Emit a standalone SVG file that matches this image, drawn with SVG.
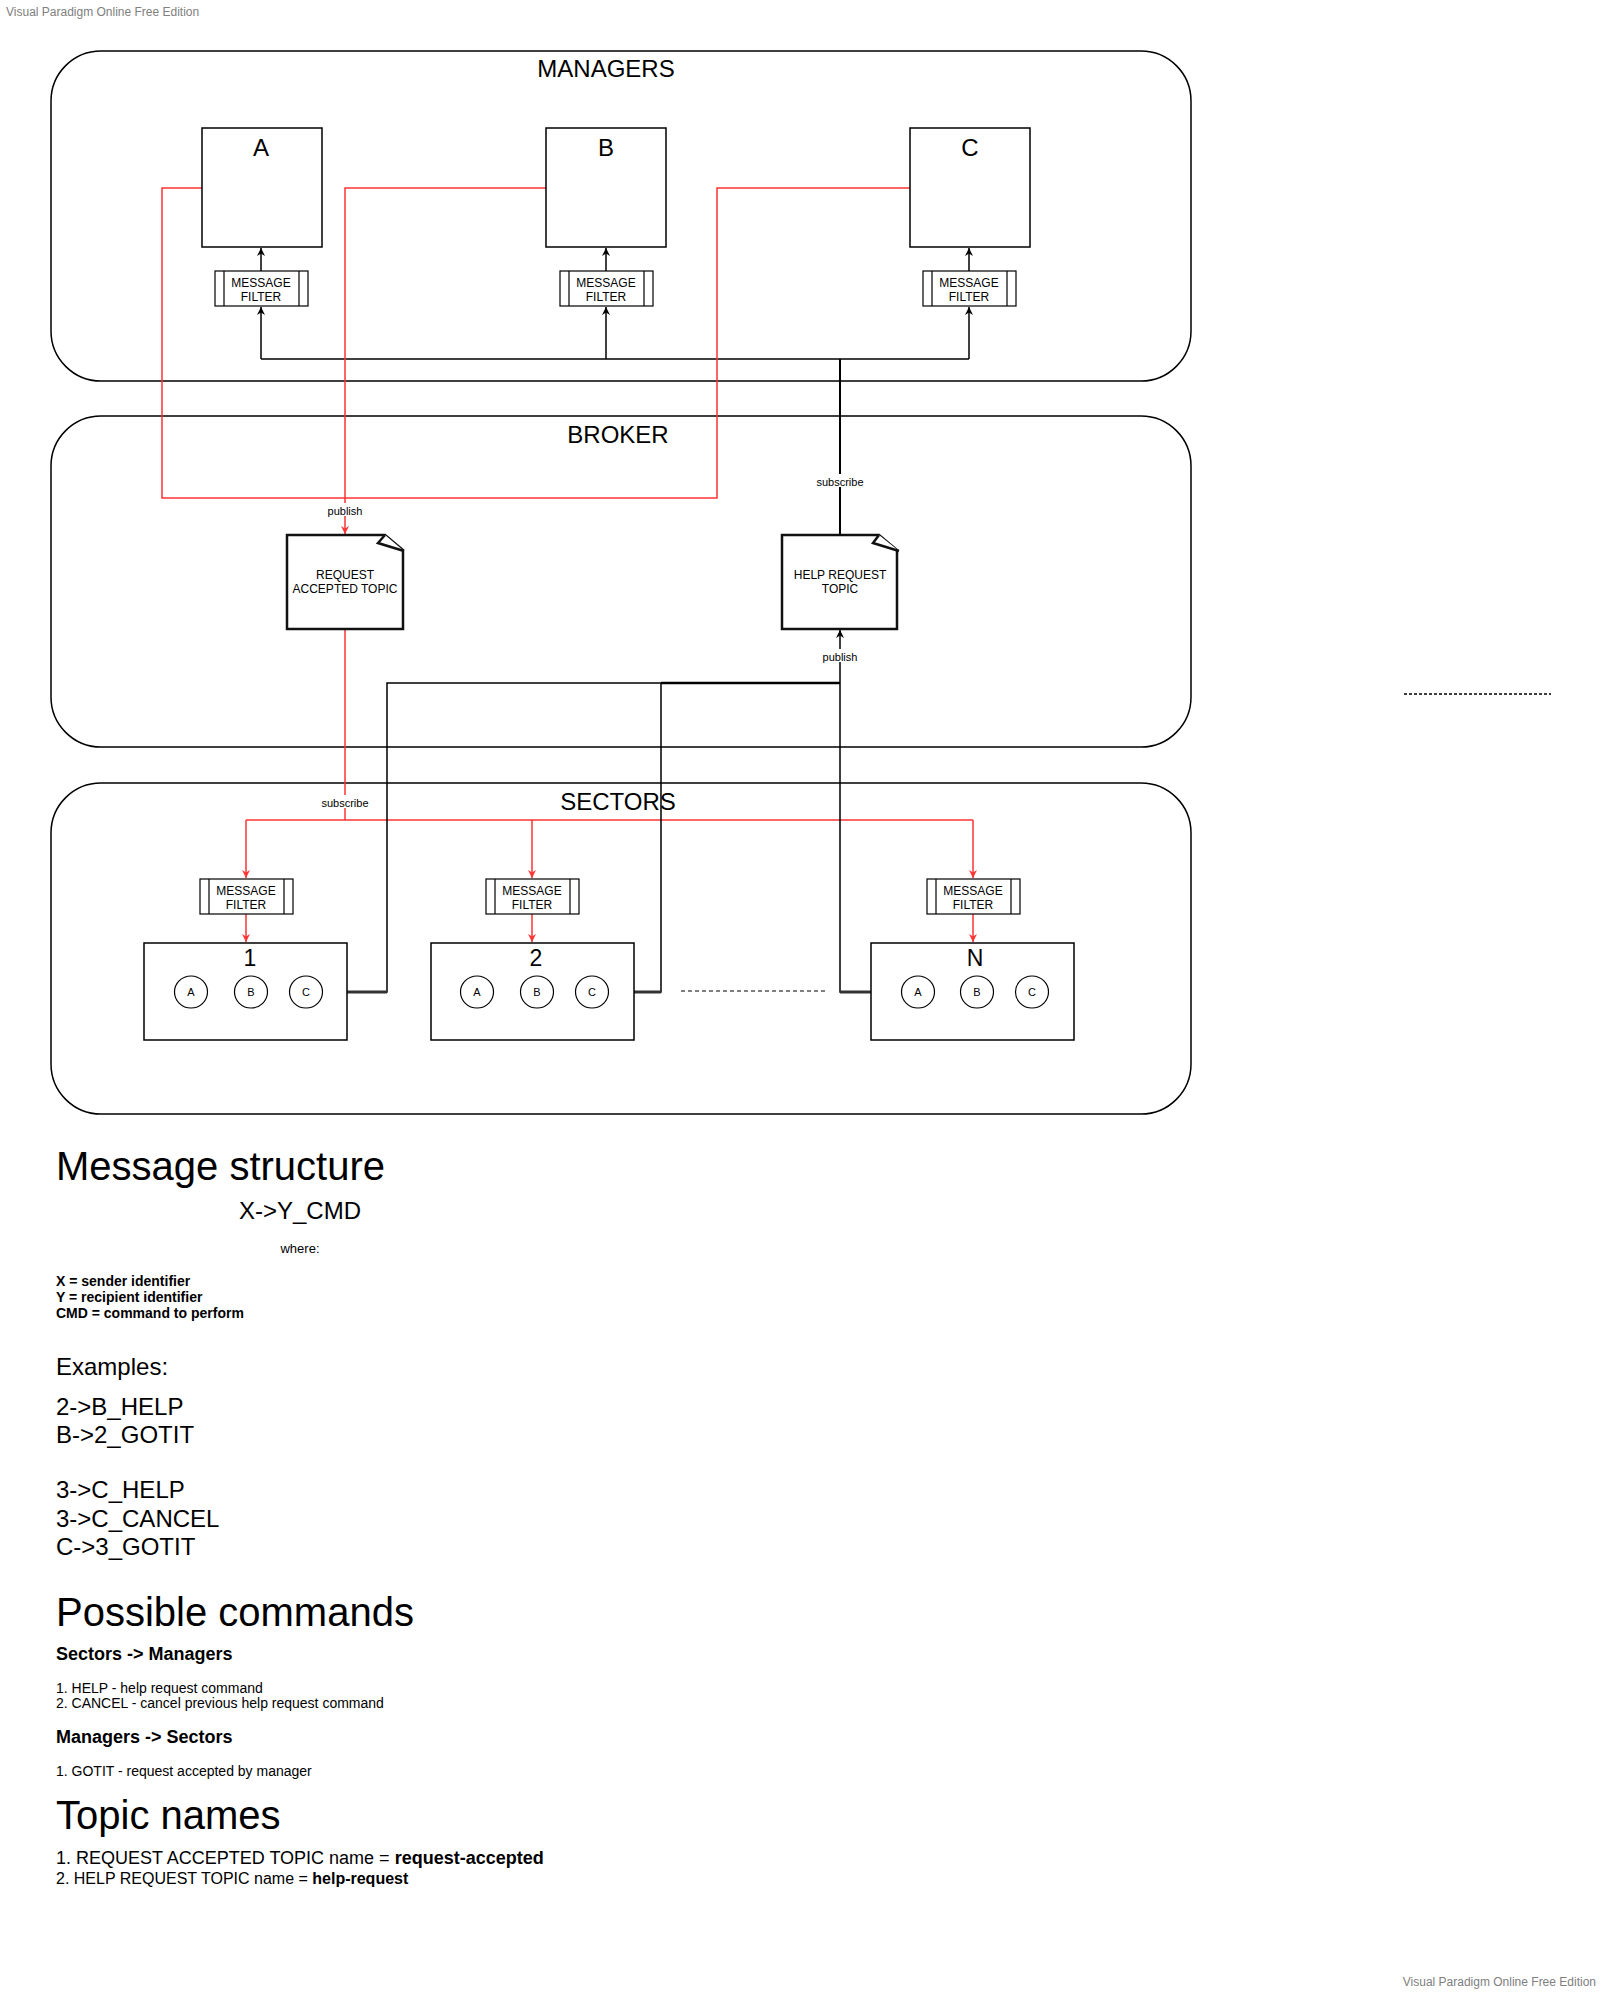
<svg xmlns="http://www.w3.org/2000/svg" width="1600" height="1992" viewBox="0 0 1600 1992">
<style>
text{font-family:"Liberation Sans",Arial,sans-serif;fill:#000}
.wm{font-size:12px;fill:#808080}
.cont{fill:none;stroke:#000;stroke-width:1.5}
.box{fill:#fff;stroke:#000;stroke-width:1.5}
.flt{fill:#fff;stroke:#000;stroke-width:1.2}
.topic{fill:#fff;stroke:#111;stroke-width:2.5;stroke-linejoin:miter}
.big{font-size:24px;text-anchor:middle}
.sm{font-size:12px;text-anchor:middle}
.cl{font-size:11px;text-anchor:middle}
.lbl{font-size:11px;text-anchor:middle}
.blk{fill:none;stroke:#000;stroke-width:1.5}
.red{fill:none;stroke:#f33;stroke-width:1.5}
.stub{fill:none;stroke:#333;stroke-width:3}
.circ{fill:#fff;stroke:#000;stroke-width:1.2}
</style>
<defs>
<marker id="ab" viewBox="0 0 10 10" refX="10" refY="5" markerWidth="9" markerHeight="8" markerUnits="userSpaceOnUse" orient="auto"><path d="M0,0 L10,5 L0,10 L3,5 z" fill="#000"/></marker>
<marker id="ar" viewBox="0 0 10 10" refX="10" refY="5" markerWidth="9" markerHeight="8" markerUnits="userSpaceOnUse" orient="auto"><path d="M0,0 L10,5 L0,10 L3,5 z" fill="#f33"/></marker>
</defs>
<rect width="1600" height="1992" fill="#fff"/>
<text class="wm" x="6" y="16">Visual Paradigm Online Free Edition</text>
<text class="wm" x="1596" y="1986" text-anchor="end">Visual Paradigm Online Free Edition</text>

<g id="managers">
<rect class="cont" x="51" y="51" width="1140" height="330" rx="50" ry="50"/>
<text class="big" x="606" y="77">MANAGERS</text>
</g>
<g id="broker">
<rect class="cont" x="51" y="416" width="1140" height="331" rx="50" ry="50"/>
<text class="big" x="618" y="443">BROKER</text>
</g>
<g id="sectors">
<rect class="cont" x="51" y="783" width="1140" height="331" rx="50" ry="50"/>
<text class="big" x="618" y="810">SECTORS</text>
</g>

<g id="connectors">
<path class="blk" d="M261,359 H969"/>
<path class="blk" d="M261,359 V307" marker-end="url(#ab)"/>
<path class="blk" d="M606,359 V307" marker-end="url(#ab)"/>
<path class="blk" d="M969,359 V307" marker-end="url(#ab)"/>
<path class="blk" d="M261,271 V248" marker-end="url(#ab)"/>
<path class="blk" d="M606,271 V248" marker-end="url(#ab)"/>
<path class="blk" d="M969,271 V248" marker-end="url(#ab)"/>
<path class="blk" d="M840,535 V359" style="stroke-width:2"/>
<path class="red" d="M202,188 H162 V498 H345"/>
<path class="red" d="M910,188 H717 V498 H345"/>
<path class="red" d="M546,188 H345 V534" marker-end="url(#ar)"/>
<path class="red" d="M345,629 V820"/>
<path class="red" d="M246,820 H973"/>
<path class="red" d="M246,820 V878" marker-end="url(#ar)"/>
<path class="red" d="M532,820 V878" marker-end="url(#ar)"/>
<path class="red" d="M973,820 V878" marker-end="url(#ar)"/>
<path class="red" d="M246,914 V942" marker-end="url(#ar)"/>
<path class="red" d="M532,914 V942" marker-end="url(#ar)"/>
<path class="red" d="M973,914 V942" marker-end="url(#ar)"/>
<path class="blk" d="M347,992 H387 V683 H840"/>
<path class="blk" d="M634,992 H661 V683"/>
<path class="blk" d="M661,683 H840" style="stroke-width:2.5"/>
<path class="blk" d="M871,992 H840 V630" marker-end="url(#ab)"/>
<path class="stub" d="M347,992 H387"/>
<path class="stub" d="M634,992 H661"/>
<path class="stub" d="M871,992 H840"/>
<path d="M681,991 H827" stroke="#000" stroke-width="1.2" stroke-dasharray="4,3" fill="none"/>
<path d="M1404,694 H1551" stroke="#000" stroke-width="1.5" stroke-dasharray="3,2" fill="none"/>
<rect x="326" y="503" width="38" height="13" fill="#fff"/>
<text class="lbl" x="345" y="515">publish</text>
<rect x="815" y="474" width="50" height="13" fill="#fff"/>
<text class="lbl" x="840" y="486">subscribe</text>
<rect x="821" y="649" width="38" height="13" fill="#fff"/>
<text class="lbl" x="840" y="661">publish</text>
<rect x="320" y="795" width="50" height="13" fill="#fff"/>
<text class="lbl" x="345" y="807">subscribe</text>
</g>

<g id="mgrA"><rect class="box" x="202" y="128" width="120" height="119"/><text class="big" x="261" y="156">A</text></g>
<g id="mgrB"><rect class="box" x="546" y="128" width="120" height="119"/><text class="big" x="606" y="156">B</text></g>
<g id="mgrC"><rect class="box" x="910" y="128" width="120" height="119"/><text class="big" x="970" y="156">C</text></g>

<g id="filterA"><rect class="flt" x="215" y="271" width="93" height="35"/><path class="flt" d="M224,271 V306 M299,271 V306"/><text class="sm" x="261" y="287">MESSAGE</text><text class="sm" x="261" y="301">FILTER</text></g>
<g id="filterB"><rect class="flt" x="560" y="271" width="93" height="35"/><path class="flt" d="M569,271 V306 M644,271 V306"/><text class="sm" x="606" y="287">MESSAGE</text><text class="sm" x="606" y="301">FILTER</text></g>
<g id="filterC"><rect class="flt" x="923" y="271" width="93" height="35"/><path class="flt" d="M932,271 V306 M1007,271 V306"/><text class="sm" x="969" y="287">MESSAGE</text><text class="sm" x="969" y="301">FILTER</text></g>

<g id="topicAccepted">
<path class="topic" d="M287,535 H385 L403,550 V629 H287 Z"/>
<path class="topic" d="M385,535 L378,543 L404,551" fill="none"/>
<text class="sm" x="345" y="579">REQUEST</text>
<text class="sm" x="345" y="593">ACCEPTED TOPIC</text>
</g>
<g id="topicHelp">
<path class="topic" d="M782,535 H879 L897,550 V629 H782 Z"/>
<path class="topic" d="M879,535 L873,543 L899,551" fill="none"/>
<text class="sm" x="840" y="579">HELP REQUEST</text>
<text class="sm" x="840" y="593">TOPIC</text>
</g>

<g id="sfilter1"><rect class="flt" x="200" y="879" width="93" height="35"/><path class="flt" d="M209,879 V914 M284,879 V914"/><text class="sm" x="246" y="895">MESSAGE</text><text class="sm" x="246" y="909">FILTER</text></g>
<g id="sfilter2"><rect class="flt" x="486" y="879" width="93" height="35"/><path class="flt" d="M495,879 V914 M570,879 V914"/><text class="sm" x="532" y="895">MESSAGE</text><text class="sm" x="532" y="909">FILTER</text></g>
<g id="sfilterN"><rect class="flt" x="927" y="879" width="93" height="35"/><path class="flt" d="M936,879 V914 M1011,879 V914"/><text class="sm" x="973" y="895">MESSAGE</text><text class="sm" x="973" y="909">FILTER</text></g>

<g id="sector1">
<rect class="box" x="144" y="943" width="203" height="97"/>
<text class="big" x="250" y="966" style="font-size:23px">1</text>
<ellipse class="circ" cx="191" cy="992" rx="16.5" ry="16"/><text class="cl" x="191" y="996">A</text>
<ellipse class="circ" cx="251" cy="992" rx="16.5" ry="16"/><text class="cl" x="251" y="996">B</text>
<ellipse class="circ" cx="306" cy="992" rx="16.5" ry="16"/><text class="cl" x="306" y="996">C</text>
</g>
<g id="sector2">
<rect class="box" x="431" y="943" width="203" height="97"/>
<text class="big" x="536" y="966" style="font-size:23px">2</text>
<ellipse class="circ" cx="477" cy="992" rx="16.5" ry="16"/><text class="cl" x="477" y="996">A</text>
<ellipse class="circ" cx="537" cy="992" rx="16.5" ry="16"/><text class="cl" x="537" y="996">B</text>
<ellipse class="circ" cx="592" cy="992" rx="16.5" ry="16"/><text class="cl" x="592" y="996">C</text>
</g>
<g id="sectorN">
<rect class="box" x="871" y="943" width="203" height="97"/>
<text class="big" x="975" y="966" style="font-size:23px">N</text>
<ellipse class="circ" cx="918" cy="992" rx="16.5" ry="16"/><text class="cl" x="918" y="996">A</text>
<ellipse class="circ" cx="977" cy="992" rx="16.5" ry="16"/><text class="cl" x="977" y="996">B</text>
<ellipse class="circ" cx="1032" cy="992" rx="16.5" ry="16"/><text class="cl" x="1032" y="996">C</text>
</g>

<g id="notes">
<text x="56" y="1180" style="font-size:40px">Message structure</text>
<text x="300" y="1219" style="font-size:24px" text-anchor="middle">X-&gt;Y_CMD</text>
<text x="300" y="1253" style="font-size:13px" text-anchor="middle">where:</text>
<text x="56" y="1286" style="font-size:14px;font-weight:bold">X = sender identifier</text>
<text x="56" y="1302" style="font-size:14px;font-weight:bold">Y = recipient identifier</text>
<text x="56" y="1318" style="font-size:14px;font-weight:bold">CMD = command to perform</text>
<text x="56" y="1375" style="font-size:24px">Examples:</text>
<text x="56" y="1415" style="font-size:24px">2-&gt;B_HELP</text>
<text x="56" y="1443" style="font-size:24px">B-&gt;2_GOTIT</text>
<text x="56" y="1498" style="font-size:24px">3-&gt;C_HELP</text>
<text x="56" y="1527" style="font-size:24px">3-&gt;C_CANCEL</text>
<text x="56" y="1555" style="font-size:24px">C-&gt;3_GOTIT</text>
<text x="56" y="1626" style="font-size:40px">Possible commands</text>
<text x="56" y="1660" style="font-size:18px;font-weight:bold">Sectors -&gt; Managers</text>
<text x="56" y="1693" style="font-size:14px">1. HELP - help request command</text>
<text x="56" y="1708" style="font-size:14px">2. CANCEL - cancel previous help request command</text>
<text x="56" y="1743" style="font-size:18px;font-weight:bold">Managers -&gt; Sectors</text>
<text x="56" y="1776" style="font-size:14px">1. GOTIT - request accepted by manager</text>
<text x="56" y="1829" style="font-size:40px">Topic names</text>
<text x="56" y="1864" style="font-size:18px">1. REQUEST ACCEPTED TOPIC name = <tspan font-weight="bold">request-accepted</tspan></text>
<text x="56" y="1884" style="font-size:16px">2. HELP REQUEST TOPIC name = <tspan font-weight="bold">help-request</tspan></text>
</g>
</svg>
